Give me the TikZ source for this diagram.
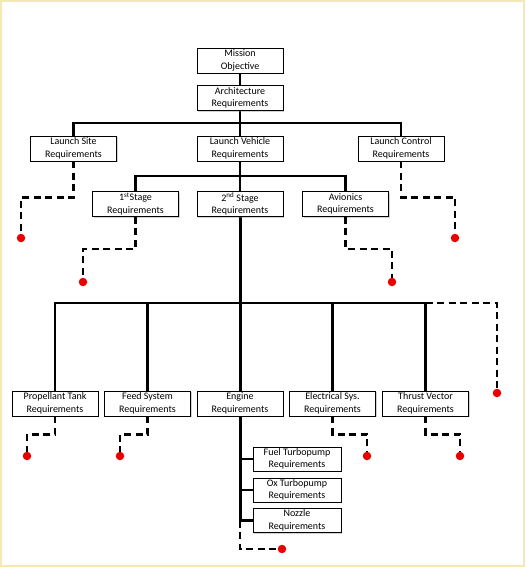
\documentclass[tikz,border=0pt]{standalone}
\usepackage{fontspec}
\setmainfont{Carlito}
\usetikzlibrary{shadows}
\definecolor{frameyel}{RGB}{246,232,178}
\definecolor{dotred}{RGB}{235,0,0}
\tikzset{
  box/.style={draw=black, line width=0.9pt, fill=white, minimum width=86pt, minimum height=25pt,
    inner sep=0pt, align=center, font=\fontsize{10}{12.5}\selectfont,
    drop shadow={opacity=0.35, shadow xshift=1.2pt, shadow yshift=-1.2pt}},
  subbox/.style={box, minimum width=88pt, minimum height=24pt},
  conn/.style={line width=2.2pt, line cap=rect},
  trunk/.style={line width=3pt},
  dashline/.style={line width=2.2pt, dash pattern=on 7pt off 4.5pt},
  reddot/.style={circle, fill=dotred, minimum size=8.5pt, inner sep=0pt},
}
\begin{document}
\begin{tikzpicture}[x=1pt,y=-1pt]
\useasboundingbox (0,0) rectangle (525,567);
\fill[white] (0,0) rectangle (525,567);
\draw[frameyel, line width=1.6pt] (0.8,0.8) rectangle (524.2,566.2);

% coordinates of junctions
\coordinate (j1) at (240,123);
\coordinate (j2) at (240,176);
\coordinate (j3) at (240,303);

% dots
\node[reddot] (d1) at (21,238) {};
\node[reddot] (d2) at (455,238) {};
\node[reddot] (d3) at (83,282) {};
\node[reddot] (d4) at (392,282) {};
\node[reddot] (d5) at (497,393) {};
\node[reddot] (d6) at (27,456) {};
\node[reddot] (d7) at (120,456) {};
\node[reddot] (d8) at (367,456) {};
\node[reddot] (d9) at (460,456) {};
\node[reddot] (d10) at (282,549) {};

% solid connectors (drawn first, boxes cover them)
\draw[conn] (240,60) -- (240,98);
\draw[conn] (73.5,148) |- (j1) -| (401,148);
\draw[conn] (240,98) -- (240,148);
\draw[conn] (135.5,204) |- (j2) -| (345.5,204);
\draw[conn] (240,148) -- (240,204);
\draw[trunk] (240,204) -- (j3);
\draw[conn] (55,403) |- (j3) -| (425.5,403);
\draw[conn] (147.5,403) -- (147.5,303);
\draw[conn] (332.5,403) -- (332.5,303);
\draw[trunk] (j3) -- (240,403);

% boxes
\node[box] (mo) at (240,60.5) {Mission\\Objective};
\node[box] (ar) at (240,98) {Architecture\\Requirements};
\node[box] (ls) at (73.5,148.5) {Launch Site\\Requirements};
\node[box] (lv) at (240,148.5) {Launch Vehicle\\Requirements};
\node[box] (lc) at (401,148.5) {Launch Control\\Requirements};
\node[box] (s1) at (135.5,204) {1\textsuperscript{st}Stage\\Requirements};
\node[box] (s2) at (240,204) {2\textsuperscript{nd} Stage\\Requirements};
\node[box] (av) at (345.5,204) {Avionics\\Requirements};
\node[box] (pt) at (55,403.5) {Propellant Tank\\Requirements};
\node[box] (fs) at (147.5,403.5) {Feed System\\Requirements};
\node[box] (en) at (240,403.5) {Engine\\Requirements};
\node[box] (es) at (332.5,403.5) {Electrical Sys.\\Requirements};
\node[box] (tv) at (425.5,403.5) {Thrust Vector\\Requirements};

% engine trunk and sub boxes
\node[subbox] (ft) at (297,459) {Fuel Turbopump\\Requirements};
\node[subbox] (ox) at (297,490) {Ox Turbopump\\Requirements};
\node[subbox] (nz) at (297,520.5) {Nozzle\\Requirements};
\draw[trunk] (en.south) -- (en.south |- nz.west);
\draw[conn] (en.south |- ft.west) -- (ft.west);
\draw[conn] (en.south |- ox.west) -- (ox.west);
\draw[conn] (en.south |- nz.west) -- (nz.west);

% dashed connectors
\draw[dashline] (ls.south) -- ++(0,36) -| (d1);
\draw[dashline] (lc.south) -- ++(0,36) -| (d2);
\draw[dashline] (s1.south) -- ++(0,32) -| (d3);
\draw[dashline] (av.south) -- ++(0,32) -| (d4);
\draw[dashline] (tv.north |- j3) -| (d5);
\draw[dashline] (pt.south) -- ++(0,18) -| (d6);
\draw[dashline] (fs.south) -- ++(0,18) -| (d7);
\draw[dashline] (es.south) -- ++(0,18) -| (d8);
\draw[dashline] (tv.south) -- ++(0,18) -| (d9);
\draw[dashline] (en.south |- nz.west) |- (d10);
\end{tikzpicture}
\end{document}
